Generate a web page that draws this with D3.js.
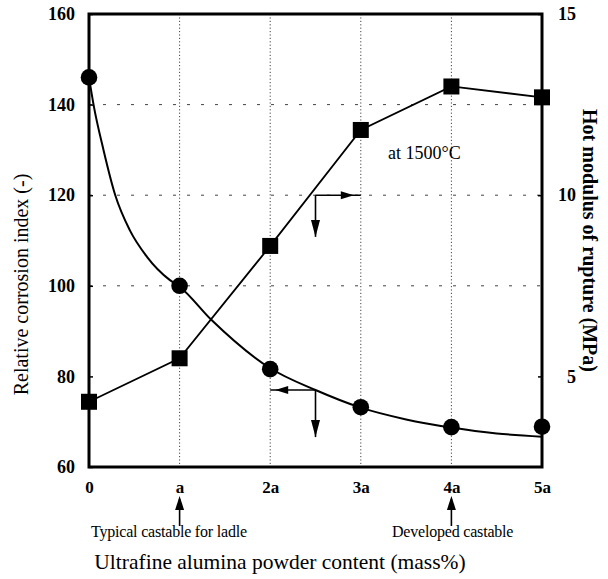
<!DOCTYPE html>
<html>
<head>
<meta charset="utf-8">
<script src="https://cdn.jsdelivr.net/npm/d3@7/dist/d3.min.js"></script>
<style>
  html, body { margin: 0; padding: 0; background: #fff; }
  svg { display: block; }
  text { font-family: "Liberation Serif", "Times New Roman", serif; fill: #000; }
</style>
</head>
<body>
<svg id="chart" width="608" height="579"></svg>
<script>
// Ultrafine alumina content, in multiples of the base amount "a"
const content = [0, 1, 2, 3, 4, 5];
const contentLabels = ["0", "a", "2a", "3a", "4a", "5a"];

// Relative corrosion index (left axis) – measured points
const corrosionIndex = [146, 100, 81.6, 73.2, 68.8, 68.9];
// Fitted trend through the corrosion data
const fitContent = [0, 0.05, 0.16, 0.29, 0.45, 0.64, 0.89, 1.0, 1.35, 2.0, 2.5, 3.0, 3.5, 4.0, 4.5, 5.0];
const fitCorrosion = [146, 140, 130, 120, 112.3, 106.4, 101.3, 99.8, 92.5, 81.8, 77, 73.1, 70.5, 68.7, 67.4, 66.7];

// Hot modulus of rupture at 1500 °C (right axis, MPa)
const hotMOR = [4.3, 5.5, 8.6, 11.8, 13.0, 12.7];

const leftTicks = [60, 80, 100, 120, 140, 160];
const rightTicks = [5, 10, 15];
const gridValues = [100, 120, 140];

const svg = d3.select("#chart");
const plot = { left: 89, right: 542, top: 14, bottom: 467 };

const x = d3.scaleLinear().domain([0, 5]).range([plot.left, plot.right]);
const yL = d3.scaleLinear().domain([60, 160]).range([plot.bottom, plot.top]);
const yR = d3.scaleLinear().domain([2.5, 15]).range([plot.bottom, plot.top]);

// dotted grid
const grid = svg.append("g").attr("stroke", "#444").attr("fill", "none");
grid.selectAll("line.v").data(content.slice(1, 5)).join("line")
  .attr("x1", d => x(d)).attr("x2", d => x(d))
  .attr("y1", plot.top).attr("y2", plot.bottom)
  .attr("stroke-width", 1).attr("stroke-dasharray", "1.2,2.2");
grid.selectAll("line.h").data(gridValues).join("line")
  .attr("x1", plot.left).attr("x2", plot.right)
  .attr("y1", d => yL(d)).attr("y2", d => yL(d))
  .attr("stroke-width", 1).attr("stroke-dasharray", "3,11");

// axes
const leftAxis = d3.axisLeft(yL).tickValues(leftTicks).tickSize(-4).tickPadding(14).tickFormat(d3.format("d"));
const rightAxis = d3.axisRight(yR).tickValues(rightTicks).tickSize(-4).tickPadding(34).tickFormat(d3.format("d"));
const bottomAxis = d3.axisBottom(x).tickValues(content).tickSize(0).tickPadding(14).tickFormat((d, i) => contentLabels[i]);

function styleAxis(g) {
  g.select(".domain").remove();
  g.selectAll(".tick line").attr("stroke", "#000").attr("stroke-width", 1.5);
  g.selectAll(".tick text").attr("font-size", 18).attr("font-weight", "bold")
    .attr("font-family", "Liberation Serif, serif");
}

svg.append("g").attr("transform", `translate(${plot.left},0)`).call(leftAxis).call(styleAxis);
svg.append("g").attr("transform", `translate(${plot.right},0)`).call(rightAxis).call(styleAxis)
  .selectAll(".tick text").attr("text-anchor", "end");
svg.append("g").attr("transform", `translate(0,${plot.bottom})`).call(bottomAxis).call(styleAxis)
  .selectAll(".tick text").attr("font-size", 17);

// frame
svg.append("rect")
  .attr("x", plot.left).attr("y", plot.top)
  .attr("width", plot.right - plot.left).attr("height", plot.bottom - plot.top)
  .attr("fill", "none").attr("stroke", "#000").attr("stroke-width", 3);

// fitted corrosion curve
svg.append("path")
  .datum(fitContent.map((c, i) => [c, fitCorrosion[i]]))
  .attr("fill", "none").attr("stroke", "#000").attr("stroke-width", 2)
  .attr("d", d3.line().x(d => x(d[0])).y(d => yL(d[1])).curve(d3.curveMonotoneX));

// hot MOR line
svg.append("path")
  .datum(content.map((c, i) => [c, hotMOR[i]]))
  .attr("fill", "none").attr("stroke", "#000").attr("stroke-width", 1.8)
  .attr("d", d3.line().x(d => x(d[0])).y(d => yR(d[1])));

// markers
svg.append("g").selectAll("circle").data(content).join("circle")
  .attr("cx", d => x(d)).attr("cy", (d, i) => yL(corrosionIndex[i])).attr("r", 8.3)
  .attr("fill", "#000");
const sq = 16;
svg.append("g").selectAll("rect").data(content).join("rect")
  .attr("x", d => x(d) - sq / 2).attr("y", (d, i) => yR(hotMOR[i]) - sq / 2)
  .attr("width", sq).attr("height", sq).attr("fill", "#000");

// arrow helpers
function head(g, tx, ty, dir, len = 12, half = 4) {
  const pts = {
    left:  [[tx, ty], [tx + len, ty - half], [tx + len, ty + half]],
    right: [[tx, ty], [tx - len, ty - half], [tx - len, ty + half]],
    down:  [[tx, ty], [tx - half, ty - len], [tx + half, ty - len]],
    up:    [[tx, ty], [tx - half, ty + len], [tx + half, ty + len]]
  }[dir];
  g.append("path").attr("d", "M" + pts.map(p => p.join(",")).join("L") + "Z").attr("fill", "#000");
}
const ann = svg.append("g");
function seg(x1, y1, x2, y2) {
  ann.append("line").attr("x1", x1).attr("y1", y1).attr("x2", x2).attr("y2", y2)
    .attr("stroke", "#000").attr("stroke-width", 1.6);
}

// axis pointer: corrosion curve -> left axis
{
  const cx = x(2.5), cy = yL(77);
  seg(cx, cy, x(2), cy);
  head(ann, x(2) + 5, cy, "left", 13, 4);
  seg(cx, cy, cx, yL(66.6));
  head(ann, cx, yL(66.6), "down", 17, 4.5);
}
// axis pointer: hot MOR line -> right axis
{
  const cx = x(2.5), cy = yR(10);
  seg(cx, cy, x(3), cy);
  head(ann, x(3) - 7, cy, "right", 13, 4);
  seg(cx, cy, cx, yR(8.85));
  head(ann, cx, yR(8.85), "down", 17, 4.5);
}

// condition label
svg.append("text").attr("x", x(3.3)).attr("y", yR(11.0))
  .attr("font-size", 18).text("at 1500°C");

// callouts below the axis
const callouts = [
  { at: 1, text: "Typical castable for ladle", anchor: 91 },
  { at: 4, text: "Developed castable", anchor: 392 }
];
callouts.forEach(c => {
  const cx = x(c.at);
  seg(cx, 526, cx, 499);
  head(ann, cx, 496, "up", 14, 4.5);
  svg.append("text").attr("x", c.anchor).attr("y", 537)
    .attr("font-size", 16).attr("letter-spacing", -0.2).text(c.text);
});

// axis titles
svg.append("text").attr("transform", `translate(280,569)`)
  .attr("text-anchor", "middle").attr("font-size", 21.5)
  .text("Ultrafine alumina powder content (mass%)");
svg.append("text").attr("transform", `translate(28,${(plot.top + plot.bottom) / 2 + 44}) rotate(-90)`)
  .attr("text-anchor", "middle").attr("font-size", 20)
  .text("Relative corrosion index (-)");
svg.append("text").attr("transform", `translate(583,${(plot.top + plot.bottom) / 2}) rotate(90)`)
  .attr("text-anchor", "middle").attr("font-size", 20).attr("font-weight", "bold")
  .text("Hot modulus of rupture (MPa)");
</script>
</body>
</html>
